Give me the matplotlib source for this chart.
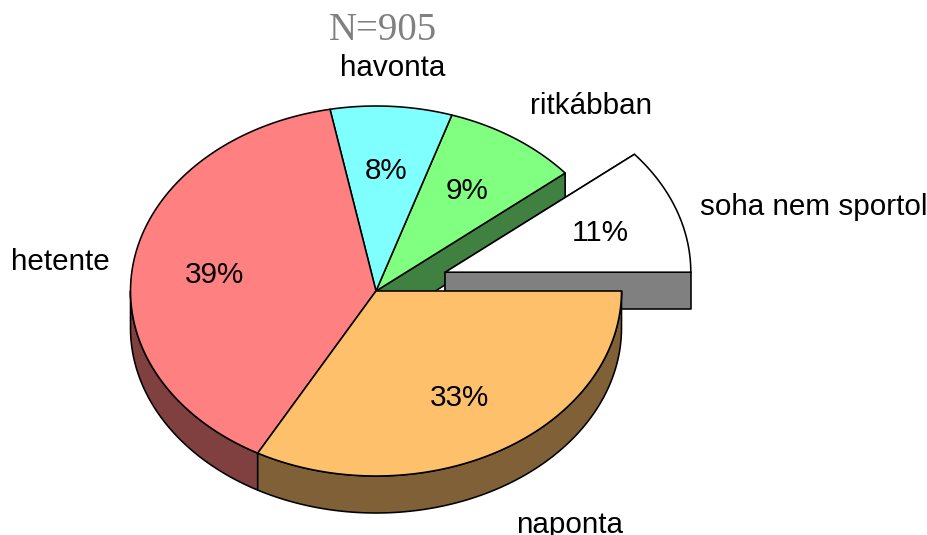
import matplotlib
matplotlib.use("Agg")
import matplotlib.pyplot as plt
from matplotlib.colors import to_rgb
from matplotlib.patches import Polygon
import numpy as np

categories = ["naponta", "hetente", "havonta", "ritkábban", "soha nem sportol"]
values = [33, 39, 8, 9, 11]
colors = ["#FFC06C", "#FF8080", "#80FFFF", "#80FF80", "#FFFFFF"]
explode = [0, 0, 0, 0, 0.3]

CX, CY = 376, 291
RX, RY = 245.5, 185
DEPTH = 37
LINE = 1.15

label_pos = [(570, 525), (60, 262), (393, 68), (591, 106), (814, 207)]
pct_pos = [(459, 398), (214, 275), (386, 171), (467, 191), (600, 233)]


def darker(color):
    return tuple(c * 0.5 for c in to_rgb(color))


def arc(cx, cy, a0, a1):
    t = np.radians(np.linspace(a0, a1, 120))
    return np.column_stack([cx + RX * np.cos(t), cy + RY * np.sin(t)])


def poly(ax, points, color):
    ax.add_patch(Polygon(points, closed=True, facecolor=color, edgecolor="black",
                         linewidth=LINE, joinstyle="round"))


def draw_side(ax, cx, cy, a0, a1, color):
    # outer wall, only the front half of the ellipse shows
    lo, hi = max(a0, 0), min(a1, 180)
    if lo < hi:
        top = arc(cx, cy, lo, hi)
        poly(ax, np.vstack([top, (top + [0, DEPTH])[::-1]]), darker(color))


def cut_face(ax, cx, cy, angle, color):
    edge = arc(cx, cy, angle, angle)[0]
    poly(ax, [(cx, cy), edge, edge + [0, DEPTH], (cx, cy + DEPTH)], darker(color))


fig = plt.figure(figsize=(9.28, 5.35), dpi=100)
ax = fig.add_axes([0, 0, 1, 1])
ax.set_xlim(0, 928)
ax.set_ylim(535, 0)
ax.axis("off")

ends = np.cumsum(values) / np.sum(values) * 360
starts = np.concatenate([[0], ends[:-1]])
centers = []
for a0, a1, ex in zip(starts, ends, explode):
    mid = np.radians((a0 + a1) / 2)
    centers.append((CX + ex * RX * np.cos(mid), CY + ex * RY * np.sin(mid)))

# back to front: the gap left by the exploded slice first
cut_face(ax, CX, CY, ends[3], colors[3])
cx, cy = centers[4]
cut_face(ax, cx, cy, starts[4], colors[4])
cut_face(ax, cx, cy, 360, colors[4])
draw_side(ax, cx, cy, starts[4] - 360, ends[4] - 360, colors[4])
poly(ax, np.vstack([[(cx, cy)], arc(cx, cy, starts[4], ends[4])]), colors[4])

for i in [1, 0]:
    draw_side(ax, CX, CY, starts[i], ends[i], colors[i])
for i in [3, 2, 1, 0]:
    poly(ax, np.vstack([[(CX, CY)], arc(CX, CY, starts[i], ends[i])]), colors[i])

for name, value, lp, pp in zip(categories, values, label_pos, pct_pos):
    ax.text(*lp, name, ha="center", va="center", fontsize=21.3, family="Liberation Sans")
    ax.text(*pp, f"{value}%", ha="center", va="center", fontsize=21.3, family="Liberation Sans")

ax.text(383, 31, "N=905", ha="center", va="center", fontsize=28, color="#808080",
        family="Liberation Serif")

fig.savefig("out.png", dpi=100, facecolor="white")
